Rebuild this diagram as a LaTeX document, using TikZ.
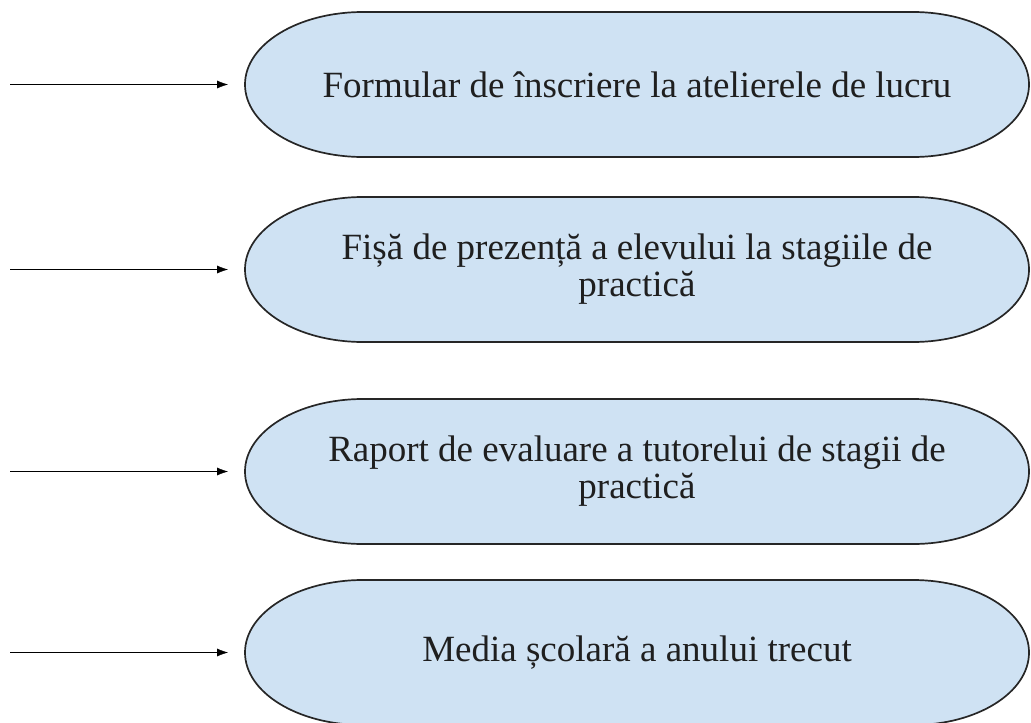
\documentclass[tikz,border=0pt]{standalone}
\usepackage{fontspec}
\setmainfont{Liberation Serif}
\usepackage{tikz}
\usetikzlibrary{arrows.meta, positioning, backgrounds}
\definecolor{pillblue}{RGB}{207,226,243}

\begin{document}
\begin{tikzpicture}[x=1pt,y=1pt,->,>={Latex[length=11pt,width=8pt]},line width=1.8pt]

	\tikzset{node doc/.style={rectangle, draw=none, outer sep=0pt,
			minimum width=784pt, minimum height=145pt,
			align=center, text=black!88, font=\fontsize{37}{37}\selectfont},
		pill/.style={-, draw=black!85, line width=1.7pt, fill=pillblue}}

	\useasboundingbox (0,0) rectangle (1031,-723);

	\node[node doc] (form) at (637,-84.5) {Formular de înscriere la atelierele de lucru};
	\node[node doc, below=40pt of form] (fisa) {Fișă de prezență a elevului la stagiile de\\practică};
	\node[node doc, below=57pt of fisa] (raport) {Raport de evaluare a tutorelui de stagii de\\practică};
	\node[node doc, below=36pt of raport] (media) {Media școlară a anului trecut};

	\begin{pgfonlayer}{background}
	\foreach \n in {form,fisa,raport,media}
	\draw[pill] ([xshift=118pt]\n.north west) -- ([xshift=-116pt]\n.north east)
		arc[start angle=90, end angle=-90, x radius=116pt, y radius=72.5pt]
		-- ([xshift=118pt]\n.south west)
		arc[start angle=270, end angle=90, x radius=118pt, y radius=72.5pt] -- cycle;
	\end{pgfonlayer}

	\foreach \n in {form,fisa,raport,media}{
		\coordinate[left=235pt of \n.west] (in-\n);
		\draw[shorten >=17pt] (in-\n) -- (\n.west);
	}

\end{tikzpicture}
\end{document}
